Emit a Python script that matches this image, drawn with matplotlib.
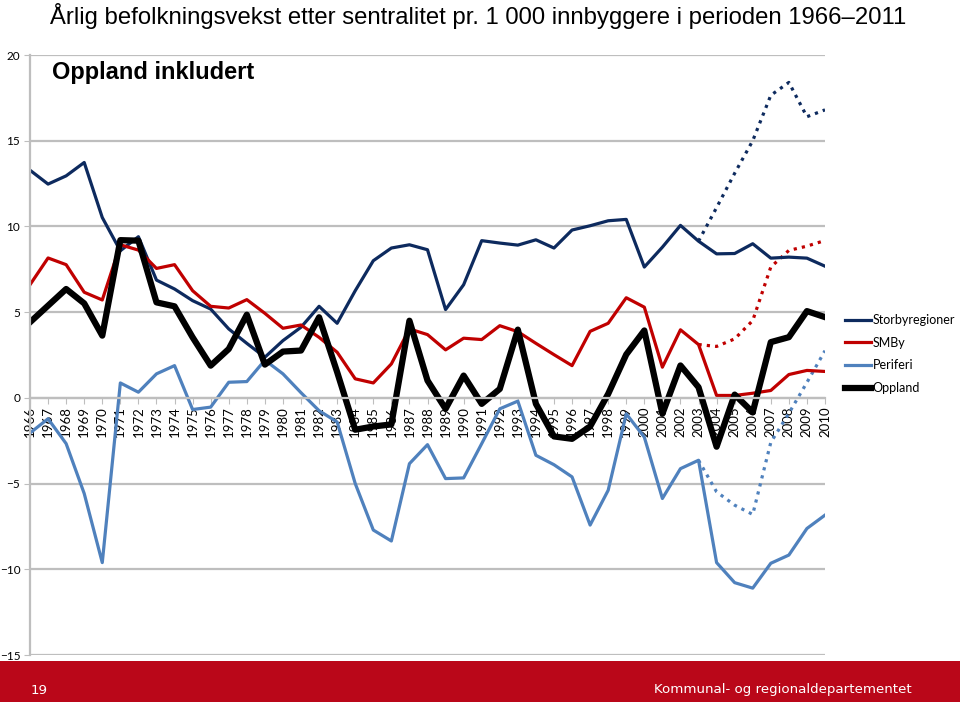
import matplotlib
matplotlib.use('Agg')
import matplotlib.pyplot as plt
from matplotlib.patches import Rectangle

years = list(range(1966, 2011))

storby = [13.28, 12.47, 12.95, 13.73, 10.52, 8.58, 9.40, 6.87, 6.35, 5.67,
          5.18, 4.02, 3.18, 2.37, 3.34, 4.12, 5.34, 4.35, 6.25, 8.0,
          8.74, 8.93, 8.64, 5.15, 6.60, 9.17, 9.03, 8.91, 9.22, 8.74,
          9.79, 10.04, 10.33, 10.41, 7.63, 8.79, 10.06, 9.14, 8.40, 8.42,
          8.99, 8.15, 8.21, 8.15, 7.68]
smby = [6.60, 8.16, 7.77, 6.16, 5.71, 8.93, 8.62, 7.55, 7.77, 6.25,
        5.34, 5.24, 5.73, 4.93, 4.06, 4.25, 3.53, 2.66, 1.11, 0.87,
        1.98, 4.02, 3.69, 2.80, 3.48, 3.40, 4.21, 3.86, 3.18, 2.52,
        1.88, 3.88, 4.35, 5.84, 5.29, 1.79, 3.97, 3.11, 0.14, 0.14,
        0.27, 0.43, 1.36, 1.60, 1.54]
periferi = [-2.05, -1.22, -2.67, -5.58, -9.61, 0.87, 0.33, 1.40, 1.88, -0.68,
            -0.54, 0.91, 0.95, 2.2, 1.4, 0.3, -0.75, -1.41, -5.0, -7.71,
            -8.35, -3.84, -2.73, -4.71, -4.67, -2.67, -0.64, -0.19, -3.35, -3.90,
            -4.61, -7.42, -5.39, -0.93, -2.29, -5.87, -4.13, -3.64, -9.61, -10.78,
            -11.1, -9.65, -9.17, -7.62, -6.84]
oppland = [4.41, 5.38, 6.35, 5.51, 3.63, 9.20, 9.17, 5.57, 5.34, 3.53,
           1.88, 2.85, 4.85, 1.94, 2.70, 2.76, 4.70, 1.5, -1.86, -1.67,
           -1.55, 4.50, 1.01, -0.64, 1.30, -0.35, 0.52, 3.98, -0.35, -2.25,
           -2.39, -1.67, 0.23, 2.53, 3.93, -0.93, 1.89, 0.62, -2.85, 0.19,
           -0.84, 3.25, 3.54, 5.06, 4.71]

# alternative series (dotted), 2003-2010
alt_years = list(range(2003, 2011))
storby_alt = [9.14, 11.1, 13.1, 15.0, 17.65, 18.4, 16.4, 16.8]
smby_alt = [3.11, 3.0, 3.44, 4.51, 7.63, 8.6, 8.85, 9.18]
periferi_alt = [-3.64, -5.48, -6.26, -6.80, -2.6, -0.9, 0.9, 2.75]

c_storby = '#0D2A5E'
c_smby = '#C00000'
c_perif = '#4F81BD'
c_opp = '#000000'
grid_c = '#BEBEBE'

fig = plt.figure(figsize=(9.6, 7.02), dpi=100)
ax = fig.add_axes([30 / 960, 1 - 655 / 702, 795 / 960, 600 / 702])

ax.set_xlim(1966, 2010)
ax.set_ylim(-15, 20)
ax.set_yticks(range(-15, 21, 5))
ax.yaxis.grid(True, color=grid_c, linewidth=1.6)
ax.set_axisbelow(True)

dots = (0, (1, 1.6))
ax.plot(alt_years, storby_alt, color=c_storby, lw=2.3, ls=dots, label='_nolegend_')
ax.plot(alt_years, smby_alt, color=c_smby, lw=2.3, ls=dots, label='_nolegend_')
ax.plot(alt_years, periferi_alt, color=c_perif, lw=2.3, ls=dots, label='_nolegend_')

ax.plot(years, storby, color=c_storby, lw=2.3, label='Storbyregioner')
ax.plot(years, smby, color=c_smby, lw=2.3, label='SMBy')
ax.plot(years, periferi, color=c_perif, lw=2.3, label='Periferi')
ax.plot(years, oppland, color=c_opp, lw=4.5, label='Oppland')

for s in ['top', 'right']:
    ax.spines[s].set_visible(False)
ax.spines['left'].set_color(grid_c)
ax.spines['left'].set_linewidth(1.6)
ax.spines['bottom'].set_position(('data', 0))
ax.spines['bottom'].set_color(grid_c)
ax.spines['bottom'].set_linewidth(1.6)

ax.set_xticks(years)
ax.set_xticklabels([str(y) for y in years], rotation=90, fontsize=9.5,
                   family=['Lato', 'DejaVu Sans'])
ax.tick_params(axis='x', direction='out', length=4, color=grid_c, pad=2)
ax.tick_params(axis='y', direction='out', length=4, color=grid_c, pad=3,
               labelsize=8.5)
for t in ax.get_yticklabels():
    t.set_family(['Lato', 'DejaVu Sans'])

leg = fig.legend(loc='center left', bbox_to_anchor=(845 / 960, 1 - 354 / 702),
                 frameon=False, handlelength=2.1, handletextpad=0.1,
                 borderpad=0, borderaxespad=0,
                 labelspacing=0.85, prop={'family': 'Lato', 'size': 9})

fig.text(50 / 960, 1 - 16 / 702,
         'Årlig befolkningsvekst etter sentralitet pr. 1 000 innbyggere i perioden 1966–2011',
         fontsize=17.2, family='Liberation Sans', va='center', ha='left')
fig.text(52 / 960, 1 - 72 / 702, 'Oppland inkludert', fontsize=17,
         family='Liberation Sans', fontweight='bold', va='center', ha='left')

fig.patches.append(Rectangle((0, 0), 1, 41 / 702, transform=fig.transFigure,
                             facecolor='#BA0719', edgecolor='none', zorder=0))
fig.text(31 / 960, 1 - 690 / 702, '19', color='white', fontsize=9.6,
         family='DejaVu Sans', va='center', ha='left')
fig.text(912 / 960, 1 - 690 / 702, 'Kommunal- og regionaldepartementet',
         color='white', fontsize=9.6, family='DejaVu Sans', va='center', ha='right')

fig.savefig('out.png', dpi=100)
